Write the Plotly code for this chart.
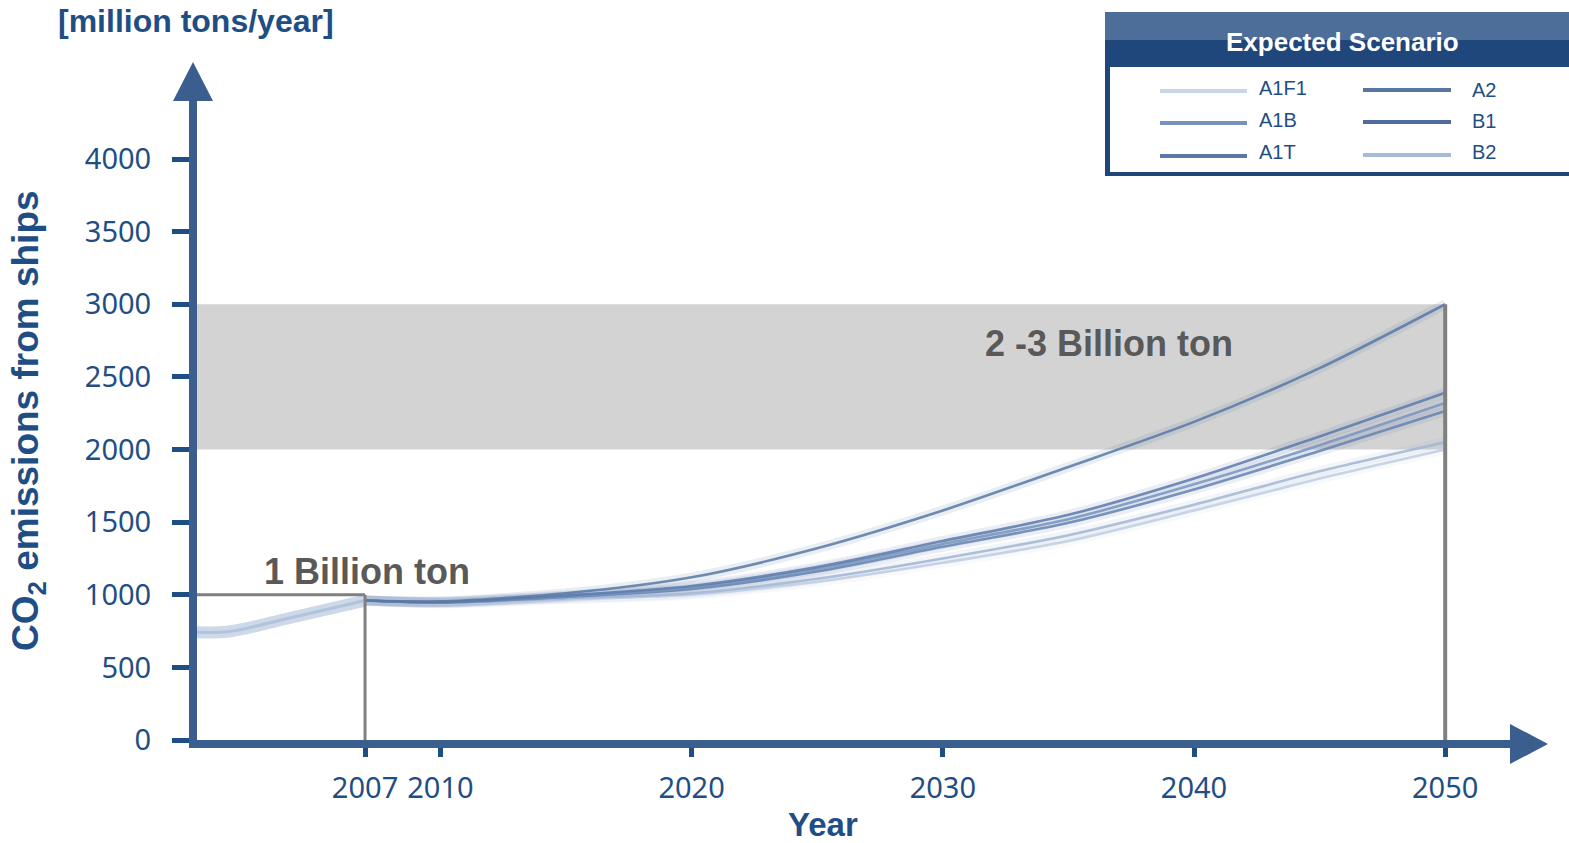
import plotly.graph_objects as go

# ---------------- data ----------------
hist_years = [2000, 2001.5, 2004, 2007]
hist_values = [745, 745, 840, 960]

years = [2007, 2010, 2015, 2020, 2025, 2030, 2035, 2040, 2045, 2050]
A2 = [960, 955, 1010, 1120, 1320, 1580, 1880, 2190, 2560, 3000]
B1 = [960, 950, 995, 1060, 1190, 1370, 1550, 1800, 2090, 2390]
A1B = [960, 950, 990, 1050, 1175, 1350, 1520, 1760, 2030, 2320]
A1T = [960, 945, 985, 1040, 1160, 1330, 1495, 1725, 1990, 2265]
B2 = [960, 945, 975, 1010, 1110, 1250, 1410, 1620, 1850, 2050]
A1F1 = [960, 940, 970, 1000, 1090, 1220, 1370, 1580, 1800, 2000]

xtick_vals = [2007, 2010, 2020, 2030, 2040, 2050]
ytick_vals = [0, 500, 1000, 1500, 2000, 2500, 3000, 3500, 4000]

series = [
    ("A1F1", A1F1, "rgba(190,205,226,1)"),
    ("B2", B2, "rgba(160,181,212,1)"),
    ("A1T", A1T, "rgba(100,130,176,1)"),
    ("A1B", A1B, "rgba(120,148,190,1)"),
    ("B1", B1, "rgba(90,122,170,1)"),
    ("A2", A2, "rgba(88,120,166,1)"),
]
legend_colors = {
    "A1F1": "#c9d4e4", "A1B": "#7791bb", "A1T": "#5a78a8",
    "A2": "#57779f", "B1": "#4b6c9c", "B2": "#a8bbd5",
}

NAVY = "#1f4e85"
AXIS = "#3a5f8e"

# plot area geometry (pixels)
L, R, T, B = 197, 1512, 100, 740
W, H = 1569, 843


def px_x(p):
    return (p - L) / (R - L)


def px_y(p):
    return (B - p) / (B - T)


fig = go.Figure()

# history (light, thick)
fig.add_trace(go.Scatter(x=hist_years, y=hist_values, mode="lines",
                         line=dict(color="rgba(200,213,230,0.9)", width=12, shape="spline"),
                         hoverinfo="skip", showlegend=False))
fig.add_trace(go.Scatter(x=hist_years, y=hist_values, mode="lines",
                         line=dict(color="rgba(170,190,216,0.8)", width=3, shape="spline"),
                         hoverinfo="skip", showlegend=False))

for name, vals, col in series:
    halo = col.replace(",1)", ",0.13)")
    fig.add_trace(go.Scatter(x=years, y=vals, mode="lines", name=name,
                             line=dict(color=halo, width=10, shape="spline", smoothing=0.8),
                             hoverinfo="skip", showlegend=False))
for name, vals, col in series:
    fig.add_trace(go.Scatter(x=years, y=vals, mode="lines", name=name,
                             line=dict(color=col.replace(",1)", ",0.85)"), width=2.6,
                                       shape="spline", smoothing=0.8),
                             showlegend=False))

shapes = []
# gray band 2-3 billion
shapes.append(dict(type="rect", xref="x", yref="y", x0=2000, x1=2050, y0=2000, y1=3000,
                   fillcolor="#d3d3d3", line=dict(width=0), layer="below"))
# reference lines
shapes.append(dict(type="line", xref="x", yref="y", x0=2007, x1=2007, y0=0, y1=1000,
                   line=dict(color="#808080", width=3)))
shapes.append(dict(type="line", xref="x", yref="y", x0=2000, x1=2007, y0=1000, y1=1000,
                   line=dict(color="#808080", width=3)))
shapes.append(dict(type="line", xref="x", yref="y", x0=2050, x1=2050, y0=0, y1=3000,
                   line=dict(color="#808080", width=4)))
# axis arrowheads
shapes.append(dict(type="path", xref="paper", yref="paper", xsizemode="pixel", ysizemode="pixel",
                   xanchor=0, yanchor=1, path="M -24,-1 L 16,-1 L -4,38 Z",
                   fillcolor=AXIS, line=dict(width=0)))
shapes.append(dict(type="path", xref="paper", yref="paper", xsizemode="pixel", ysizemode="pixel",
                   xanchor=1, yanchor=0, path="M -2,16 L -2,-24 L 36,-4 Z",
                   fillcolor=AXIS, line=dict(width=0)))

# legend box
bx0, bx1 = px_x(1105), px_x(1580)
shapes.append(dict(type="rect", xref="paper", yref="paper", x0=bx0, x1=bx1,
                   y0=px_y(176), y1=px_y(12), fillcolor="#1f477c", line=dict(width=0)))
shapes.append(dict(type="rect", xref="paper", yref="paper", x0=px_x(1105), x1=bx1,
                   y0=px_y(40), y1=px_y(12), fillcolor="#4d6e99", line=dict(width=0)))
shapes.append(dict(type="rect", xref="paper", yref="paper", x0=px_x(1110), x1=bx1,
                   y0=px_y(172), y1=px_y(67), fillcolor="white", line=dict(width=0)))

legend_layout = [
    ("A1F1", 1160, 1247, 91, 1257, 88),
    ("A1B", 1160, 1247, 123, 1257, 120),
    ("A1T", 1160, 1247, 156, 1257, 152),
    ("A2", 1363, 1451, 90, 1470, 90),
    ("B1", 1363, 1451, 122, 1470, 121),
    ("B2", 1363, 1451, 155, 1470, 152),
]
annotations = []
for name, lx0, lx1, ly, tx, ty in legend_layout:
    shapes.append(dict(type="line", xref="paper", yref="paper", x0=px_x(lx0), x1=px_x(lx1),
                       y0=px_y(ly), y1=px_y(ly),
                       line=dict(color=legend_colors[name], width=4)))
    annotations.append(dict(xref="paper", yref="paper", x=px_x(tx), y=px_y(ty),
                            xanchor="left", yanchor="middle", showarrow=False, text=name,
                            font=dict(family="Liberation Sans, Arial", size=20, color=NAVY)))

annotations.append(dict(xref="paper", yref="paper", x=px_x(1342), y=px_y(42),
                        xanchor="center", yanchor="middle", showarrow=False,
                        text="<b>Expected Scenario</b>",
                        font=dict(family="Liberation Sans, Arial", size=26, color="white")))

# chart text
annotations.append(dict(xref="x", yref="y", x=2002.9, y=1163, xanchor="left", yanchor="middle",
                        showarrow=False, text="<b>1 Billion ton</b>",
                        font=dict(family="Liberation Sans, Arial", size=36, color="#595959")))
annotations.append(dict(xref="x", yref="y", x=2031.6, y=2733, xanchor="left", yanchor="middle",
                        showarrow=False, text="<b>2 -3 Billion ton</b>",
                        font=dict(family="Liberation Sans, Arial", size=36, color="#595959")))
annotations.append(dict(xref="paper", yref="paper", x=px_x(56), y=px_y(21),
                        xanchor="left", yanchor="middle", showarrow=False,
                        text="<b>[million tons/year]</b>",
                        font=dict(family="Liberation Sans, Arial", size=32, color=NAVY)))
annotations.append(dict(xref="paper", yref="paper", x=px_x(28), y=px_y(421),
                        xanchor="center", yanchor="middle", showarrow=False, textangle=-90,
                        text="<b>CO<sub>2</sub> emissions from ships</b>",
                        font=dict(family="Liberation Sans, Arial", size=37, color=NAVY)))
annotations.append(dict(xref="paper", yref="paper", x=px_x(823), y=px_y(824),
                        xanchor="center", yanchor="middle", showarrow=False,
                        text="<b>Year</b>",
                        font=dict(family="Liberation Sans, Arial", size=33, color=NAVY)))

x_per_px = 1 / 25.12
x0 = 2000 + (L - 189.2) * x_per_px
x1 = 2000 + (R - 189.2) * x_per_px
y_per_px = 1 / 0.14525

fig.update_layout(
    width=W, height=H,
    margin=dict(l=L, r=W - R, t=T, b=H - B, pad=0),
    paper_bgcolor="white", plot_bgcolor="white",
    showlegend=False,
    shapes=shapes,
    annotations=annotations,
    xaxis=dict(range=[x0, x1], showgrid=False, zeroline=False, showline=True,
               linecolor=AXIS, linewidth=8, ticks="outside", ticklen=9, tickwidth=5,
               tickcolor=NAVY, tickvals=xtick_vals, ticktext=[str(v) for v in xtick_vals],
               tickfont=dict(family="Noto Sans", size=29, color=NAVY),
               ticklabelstandoff=6, fixedrange=True),
    yaxis=dict(range=[0, (B - T) * y_per_px], showgrid=False, zeroline=False, showline=True,
               linecolor=AXIS, linewidth=8, ticks="outside", ticklen=17, tickwidth=5,
               tickcolor=NAVY, tickvals=ytick_vals,
               tickfont=dict(family="Noto Sans", size=29, color=NAVY),
               ticklabelstandoff=15, fixedrange=True),
)

fig.write_html("out.html", post_script="document.body.style.margin='0';",
               config={"displayModeBar": False})
